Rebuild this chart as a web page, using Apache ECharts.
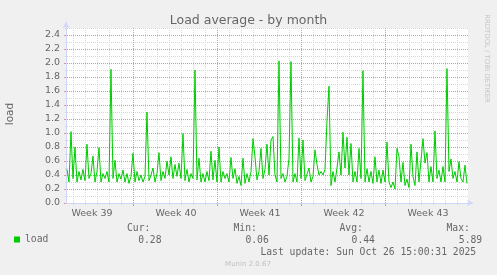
<!DOCTYPE html>
<html><head><meta charset="utf-8">
<script src="https://cdn.jsdelivr.net/npm/echarts@6/dist/echarts.min.js"></script>
<style>html,body{margin:0;padding:0;background:#F0F0F0;}#c{width:497px;height:275px;}</style>
</head><body><div id="c"></div>
<script>
// ---- data ----
const chartTitle = 'Load average - by month';
const yAxisTitle = 'load';
const seriesName = 'load';
// one sample every 4 hours (1/6 day) from the left edge of the plot
const loadValues = [
  0.48,0.30,1.02,0.35,0.80,0.30,0.45,0.33,0.48,0.32,
  0.84,0.35,0.42,0.67,0.30,0.45,0.79,0.30,0.42,0.35,
  0.45,0.30,1.91,0.35,0.61,0.30,0.42,0.34,0.47,0.30,
  0.42,0.28,0.38,0.71,0.30,0.45,0.32,0.40,0.30,0.38,
  1.30,0.32,0.40,0.50,0.30,0.42,0.72,0.32,0.45,0.35,
  0.60,0.40,0.66,0.35,0.55,0.38,0.57,0.35,0.99,0.32,
  0.48,0.30,0.42,0.35,1.90,0.33,0.64,0.30,0.42,0.30,
  0.45,0.32,0.74,0.33,0.61,0.30,0.80,0.30,0.45,0.35,
  0.42,0.30,0.65,0.35,0.49,0.28,0.38,0.25,0.64,0.28,
  0.42,0.30,0.45,0.92,0.66,0.33,0.45,0.78,0.35,0.48,
  0.84,0.40,0.90,0.95,0.40,0.30,2.03,0.35,0.42,0.30,
  0.38,0.64,2.02,0.30,0.42,0.30,0.93,0.35,0.90,0.32,
  0.30,0.50,0.30,0.38,0.76,0.55,0.40,0.45,0.40,0.48,
  1.17,1.67,0.25,0.45,0.30,0.50,0.73,0.40,1.01,0.50,
  0.94,0.40,0.85,0.30,0.45,0.30,0.78,0.35,1.89,0.30,
  0.49,0.30,0.45,0.28,0.66,0.30,0.47,0.28,0.47,0.30,
  0.87,0.30,0.22,0.30,0.20,0.78,0.66,0.30,0.58,0.25,
  0.34,0.22,0.84,0.38,0.25,0.73,0.30,0.28,0.92,0.57,
  0.72,0.30,0.52,0.30,1.03,0.35,0.47,0.30,0.52,0.30,
  1.92,0.45,0.63,0.35,0.45,0.30,0.59,0.35,0.30,0.54,0.28
];
const sampleStepDays = 1 / 6;
const spanDays = 33.4167;
const dayGridDays = [0.5,1.5,2.5,3.5,4.5,6.5,7.5,8.5,9.5,10.5,11.5,13.5,14.5,15.5,16.5,17.5,18.5,20.5,21.5,22.5,23.5,24.5,25.5,27.5,28.5,29.5,30.5,31.5,32.5];
const weekStartDays = [5.5, 12.5, 19.5, 26.5];
const weekLabelDays = [2.083, 9.083, 16.083, 23.083, 30.083];
const weekLabels = ['Week 39', 'Week 40', 'Week 41', 'Week 42', 'Week 43'];
const yMax = 2.5;
const yMajorTicks = [0,0.2,0.4,0.6,0.8,1.0,1.2,1.4,1.6,1.8,2.0,2.2,2.4];
const yMinorTicks = [0.1,0.3,0.5,0.7,0.9,1.1,1.3,1.5,1.7,1.9,2.1,2.3,2.5];
const statHeaders = ['Cur:', 'Min:', 'Avg:', 'Max:'];
const statValues = ['0.28', '0.06', '0.44', '5.89'];
const lastUpdateText = 'Last update: Sun Oct 26 15:00:31 2025';
const footerText = 'Munin 2.0.67';
const watermarkText = 'RRDTOOL / TOBI OETIKER';

// ---- chart ----
const FONT = 'DejaVu Sans';
const MONO = 'DejaVu Sans Mono';
const TXT = '#666666';
const AXIS = '#CFD6F8';
const GRID_GRAY = '#d6d6d6';
const GRID_RED = '#e69090';

const seriesData = loadValues.map((v, i) => [i * sampleStepDays, v]);

const chart = echarts.init(document.getElementById('c'), null, {renderer: 'canvas'});
const headerX = [127, 233.5, 339.5, 446.5];
const valueX = [138.2, 245.4, 351.6, 458.8];
const graphics = [];
statHeaders.forEach((t, i) => graphics.push({type: 'text', x: headerX[i], y: 228, style: {text: t, font: '9.7px "' + MONO + '"', fill: TXT, textVerticalAlign: 'middle'}}));
statValues.forEach((t, i) => graphics.push({type: 'text', x: valueX[i], y: 240.3, style: {text: t, font: '9.7px "' + MONO + '"', fill: TXT, textVerticalAlign: 'middle'}}));
graphics.push({type: 'text', x: 260.4, y: 252, style: {text: lastUpdateText, font: '9.7px "' + MONO + '"', fill: TXT, textVerticalAlign: 'middle'}});
graphics.push({type: 'text', x: 248, y: 264.5, style: {text: footerText, font: '7px "' + FONT + '"', fill: '#c0c0c0', textAlign: 'center', textVerticalAlign: 'middle'}});
graphics.push({type: 'text', x: 487, y: 58.5, rotation: -Math.PI / 2, style: {text: watermarkText, font: '6.9px "' + FONT + '"', fill: '#c4c4c4', textAlign: 'center', textVerticalAlign: 'middle'}});
graphics.push({type: 'text', x: 10.5, y: 114, rotation: Math.PI / 2, style: {text: yAxisTitle, font: '10.5px "' + FONT + '"', fill: TXT, textAlign: 'center', textVerticalAlign: 'middle'}});

const dash = [1, 1];
chart.setOption({
  animation: false,
  backgroundColor: '#F0F0F0',
  title: {text: chartTitle, left: 'center', top: 14, padding: 0,
    textStyle: {fontFamily: FONT, fontSize: 12.5, fontWeight: 'normal', color: TXT}},
  legend: {data: [seriesName], left: 14, top: 234.5, padding: 0, icon: 'rect', itemWidth: 6, itemHeight: 6,
    textStyle: {fontFamily: MONO, fontSize: 9.7, color: TXT}},
  graphic: graphics,
  grid: [
    {left: 67, top: 28, width: 401, height: 175, show: true, backgroundColor: '#FFFFFF', borderWidth: 0},
    {left: 66, top: 22, width: 407, height: 181, show: false}
  ],
  xAxis: [
    {type: 'value', gridIndex: 0, position: 'bottom', min: 0, max: spanDays, z: 1,
      axisLine: {show: false},
      axisTick: {show: true, length: 2, customValues: dayGridDays, lineStyle: {color: GRID_GRAY}},
      axisLabel: {show: true, customValues: weekLabelDays, margin: 6, fontFamily: FONT, fontSize: 9.5, color: TXT,
        formatter: v => weekLabels[weekLabelDays.indexOf(v)]},
      splitLine: {show: true, lineStyle: {color: GRID_GRAY, type: dash, width: 1}}},
    {type: 'value', gridIndex: 0, position: 'bottom', min: 0, max: spanDays, z: 2,
      axisLine: {show: false},
      axisTick: {show: true, length: 3, customValues: weekStartDays, lineStyle: {color: GRID_RED}},
      axisLabel: {show: false},
      splitLine: {show: true, lineStyle: {color: GRID_RED, type: dash, width: 1}}},
    {type: 'value', gridIndex: 1, position: 'bottom', min: 0, max: 1, z: 3,
      axisLine: {show: true, symbol: ['none', 'arrow'], symbolSize: [5, 6], lineStyle: {color: AXIS, width: 1}},
      axisTick: {show: false}, axisLabel: {show: false}, splitLine: {show: false}}
  ],
  yAxis: [
    {type: 'value', gridIndex: 0, position: 'left', min: 0, max: yMax, z: 1,
      axisLine: {show: false},
      axisTick: {show: true, length: 2, customValues: yMinorTicks, lineStyle: {color: GRID_GRAY}},
      axisLabel: {show: false},
      splitLine: {show: true, lineStyle: {color: GRID_GRAY, type: dash, width: 1}}},
    {type: 'value', gridIndex: 0, position: 'left', min: 0, max: yMax, z: 2,
      axisLine: {show: false},
      axisTick: {show: true, length: 3, customValues: yMajorTicks, lineStyle: {color: GRID_RED}},
      axisLabel: {show: true, customValues: yMajorTicks, margin: 7, fontFamily: FONT, fontSize: 9.5, color: TXT,
        formatter: v => v.toFixed(1)},
      splitLine: {show: true, lineStyle: {color: GRID_RED, type: dash, width: 1}}},
    {type: 'value', gridIndex: 1, position: 'left', min: 0, max: 1, z: 3,
      axisLine: {show: true, symbol: ['none', 'arrow'], symbolSize: [5, 6], lineStyle: {color: AXIS, width: 1}},
      axisTick: {show: false}, axisLabel: {show: false}, splitLine: {show: false}}
  ],
  series: [{
    name: seriesName, type: 'line', xAxisIndex: 0, yAxisIndex: 0, data: seriesData,
    showSymbol: false, symbol: 'none', z: 4,
    itemStyle: {color: '#00CC00'},
    lineStyle: {color: '#00CC00', width: 1}
  }]
});
</script></body></html>
